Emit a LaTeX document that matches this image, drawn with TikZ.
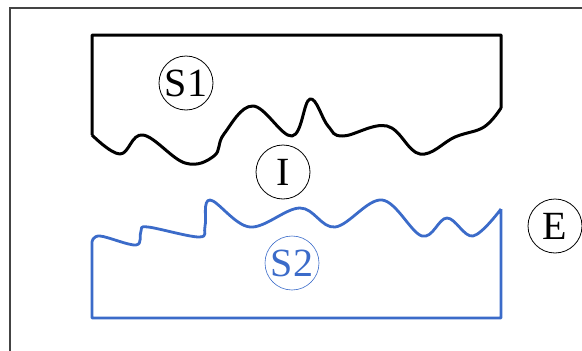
\documentclass[tikz,border=0pt]{standalone}
\usepackage{fontspec}
\setmainfont{Liberation Serif}
\definecolor{sblue}{HTML}{3B6BC9}
\definecolor{framegray}{HTML}{444444}
\begin{document}
\begin{tikzpicture}[x=1pt,y=-1pt,
  lbl/.style={circle,draw,line width=0.8pt,minimum size=54pt,inner sep=0pt,font=\fontsize{40}{40}\selectfont},
  solidA/.style={line width=3pt,line join=round,black},
  solidB/.style={line width=2.8pt,line join=round,sblue}]
\useasboundingbox (0,0) rectangle (582,351);
\draw[framegray,line width=1.4pt] (10,351) -- (10,8) -- (582,8);
% S1 solid
\draw[solidA] (501,108) -- (501,35) -- (92,35) -- (92,135)
  plot[smooth,tension=0.65] coordinates {(92,135) (120,154) (143,135) (185,163) (214,156) (224,134) (253,106) (292,136) (310,99) (328,126) (343,136) (387,126) (420,154) (455,137) (484,127) (501,108)};
% S2 solid
\draw[solidB] (501,209) -- (501,318) -- (92,318) -- (92,242)
  plot[smooth,tension=0.6] coordinates {(92,242) (100,236) (136,245) (141,231) (148,227) (199,237) (205,226) (210,200) (250,227) (300,208) (335,227) (382,200) (422,236) (447,218) (473,236) (501,209)};
\node[lbl] (S1) at (186,83) {S1};
\node[lbl] (I) at (283,172) {I};
\node[lbl,draw=sblue,text=sblue,line width=0.6pt] (S2) at (292,263) {S2};
\node[lbl] (E) at (555,226) {E};
\end{tikzpicture}
\end{document}
